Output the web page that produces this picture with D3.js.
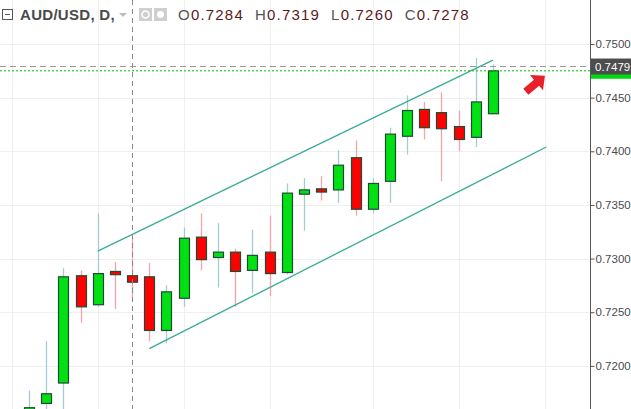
<!DOCTYPE html>
<html><head><meta charset="utf-8">
<script src="https://cdn.jsdelivr.net/npm/d3@7"></script>
<style>body{margin:0;background:#fff}svg{display:block;font-family:"Liberation Sans",Arial,sans-serif}</style>
</head><body><svg id="c" width="631" height="409"></svg>
<script>
const opens  = [.7158,.7165,.7184,.7284,.7257,.7288,.7284,.7283,.7233,.7263,.7320,.7301,.7306,.7289,.7306,.7287,.7360,.7365,.7364,.7394,.7346,.7372,.7414,.7439,.7436,.7423,.7413,.7435];
const highs  = [.7177,.7223,.7291,.7289,.7342,.7297,.7319,.7296,.7275,.7329,.7342,.7333,.7309,.7327,.7340,.7370,.7375,.7377,.7401,.7410,.7375,.7422,.7452,.7446,.7455,.7438,.7487,.7481];
const lows   = [.7150,.7140,.7150,.7240,.7255,.7253,.7260,.7223,.7221,.7255,.7289,.7273,.7255,.7268,.7265,.7285,.7326,.7354,.7352,.7340,.7342,.7352,.7397,.7411,.7372,.7400,.7404,.7435];
const closes = [.7161,.7174,.7283,.7255,.7286,.7285,.7278,.7233,.7269,.7319,.7299,.7306,.7288,.7303,.7286,.7361,.7364,.7362,.7387,.7346,.7370,.7416,.7438,.7422,.7421,.7411,.7446,.7475];
const yTicks = [0.72,0.725,0.73,0.735,0.74,0.745,0.75];
const gridIdx = [-1,4,9,14,20,25,30];
const upperChannel = [[4,.7307],[27,.7485]];
const lowerChannel = [[7,.7216],[30.1,.7404]];
const crosshairIdx = 6, crosshairVal = 0.7479;

const svg = d3.select("#c");
const W=631,H=409,axisX=590;
const x = d3.scaleLinear().domain([-1.6875,32.645]).range([0,axisX]);
const y = d3.scaleLinear().domain([0.71598,0.75410]).range([H,0]);

svg.append("g").selectAll("line").data(yTicks).join("line")
 .attr("x1",0).attr("x2",axisX).attr("y1",d=>Math.round(y(d))+.5).attr("y2",d=>Math.round(y(d))+.5)
 .attr("stroke","#efefef");
svg.append("g").selectAll("line").data(gridIdx).join("line")
 .attr("y1",0).attr("y2",H).attr("x1",d=>Math.round(x(d))+.5).attr("x2",d=>Math.round(x(d))+.5)
 .attr("stroke","#efefef");

const g = svg.append("g");
opens.forEach((o,i)=>{
  const c=closes[i], up=c>=o, cx=Math.round(x(i))+.5;
  g.append("line").attr("x1",cx).attr("x2",cx).attr("y1",y(highs[i])).attr("y2",y(lows[i]))
   .attr("stroke",up?"#9fcdd0":"#f5a3ab").attr("stroke-width",1.3);
  const top=y(Math.max(o,c)), bot=y(Math.min(o,c));
  g.append("rect").attr("x",cx-5).attr("width",10).attr("y",top).attr("height",Math.max(bot-top,2))
   .attr("fill",up?"#00e013":"#ff0000").attr("stroke","#1f4a33").attr("stroke-width",1.2);
});

[upperChannel,lowerChannel].forEach(p=>{
  svg.append("line").attr("x1",x(p[0][0])).attr("y1",y(p[0][1])).attr("x2",x(p[1][0])).attr("y2",y(p[1][1]))
   .attr("stroke","#3aab97").attr("stroke-width",1.3);
});

svg.append("line").attr("x1",Math.round(x(crosshairIdx))+.5).attr("x2",Math.round(x(crosshairIdx))+.5).attr("y1",0).attr("y2",H)
 .attr("stroke","#8a8a8a").attr("stroke-dasharray","5,4");
svg.append("line").attr("x1",0).attr("x2",axisX).attr("y1",y(crosshairVal)).attr("y2",y(crosshairVal))
 .attr("stroke","#999").attr("stroke-dasharray","6,4");
const last=closes[closes.length-1];
svg.append("line").attr("x1",0).attr("x2",axisX).attr("y1",y(last)).attr("y2",y(last))
 .attr("stroke","#00c000").attr("stroke-dasharray","2,2");

const ax=535, ay=84;
svg.append("path").attr("transform",`translate(${ax},${ay}) rotate(-40)`)
 .attr("d","M-12,-4 L2,-4 L2,-10 L13,0 L2,10 L2,4 L-12,4 Z").attr("fill","#e8202a");

svg.append("line").attr("x1",axisX+.5).attr("x2",axisX+.5).attr("y1",0).attr("y2",H).attr("stroke","#555");
const ax2=svg.append("g").attr("transform",`translate(${axisX+.5},0)`)
 .call(d3.axisRight(y).tickValues(yTicks).tickFormat(d3.format(".4f")).tickSize(4).tickPadding(1));
ax2.select(".domain").remove();
ax2.selectAll("line").attr("stroke","#555");
ax2.selectAll("text").attr("fill","#4a4a4a").attr("font-size",11.5).attr("font-family","Liberation Sans, Arial, sans-serif");

svg.append("rect").attr("x",axisX+1).attr("y",y(last)-8).attr("width",40).attr("height",16).attr("fill","#00dc10");
svg.append("rect").attr("x",axisX+1).attr("y",y(crosshairVal)-8).attr("width",40).attr("height",16).attr("fill","#4d4d4d");
svg.append("text").attr("x",axisX+5).attr("y",y(crosshairVal)+4.5).attr("fill","#fff").attr("font-size",11.5).text(d3.format(".4f")(crosshairVal));

const hd=svg.append("g");
hd.append("rect").attr("x",2.5).attr("y",9.5).attr("width",10).attr("height",10).attr("fill","none").attr("stroke","#555");
hd.append("line").attr("x1",5).attr("x2",10).attr("y1",14.5).attr("y2",14.5).attr("stroke","#555");
hd.append("text").attr("x",20).attr("y",20).attr("font-size",15).attr("font-weight","bold").attr("letter-spacing",0.3).attr("fill","#4a4a4a").text("AUD/USD, D,");
hd.append("path").attr("d","M119,13 L127,13 L123,17 Z").attr("fill","#bbb");
hd.append("rect").attr("x",139).attr("y",8).attr("width",13).attr("height",13).attr("fill","#cfcfcf");
hd.append("circle").attr("cx",145.5).attr("cy",14.5).attr("r",3.5).attr("fill","none").attr("stroke","#fff").attr("stroke-width",1.5);
hd.append("rect").attr("x",154).attr("y",8).attr("width",13).attr("height",13).attr("fill","#cfcfcf");
hd.append("circle").attr("cx",160.5).attr("cy",14.5).attr("r",3.5).attr("fill","#fff");
const ohlc=[["O",opens[crosshairIdx]],["H",highs[crosshairIdx]],["L",lows[crosshairIdx]],["C",closes[crosshairIdx]]];
const t=hd.append("text").attr("x",178).attr("y",20).attr("font-size",15).attr("letter-spacing",1.2);
ohlc.forEach(([k,v],i)=>{
  t.append("tspan").attr("fill","#555").attr("dx",i?11:0).text(k);
  t.append("tspan").attr("fill","#5a1a1a").text(d3.format(".4f")(v));
});
</script></body></html>
